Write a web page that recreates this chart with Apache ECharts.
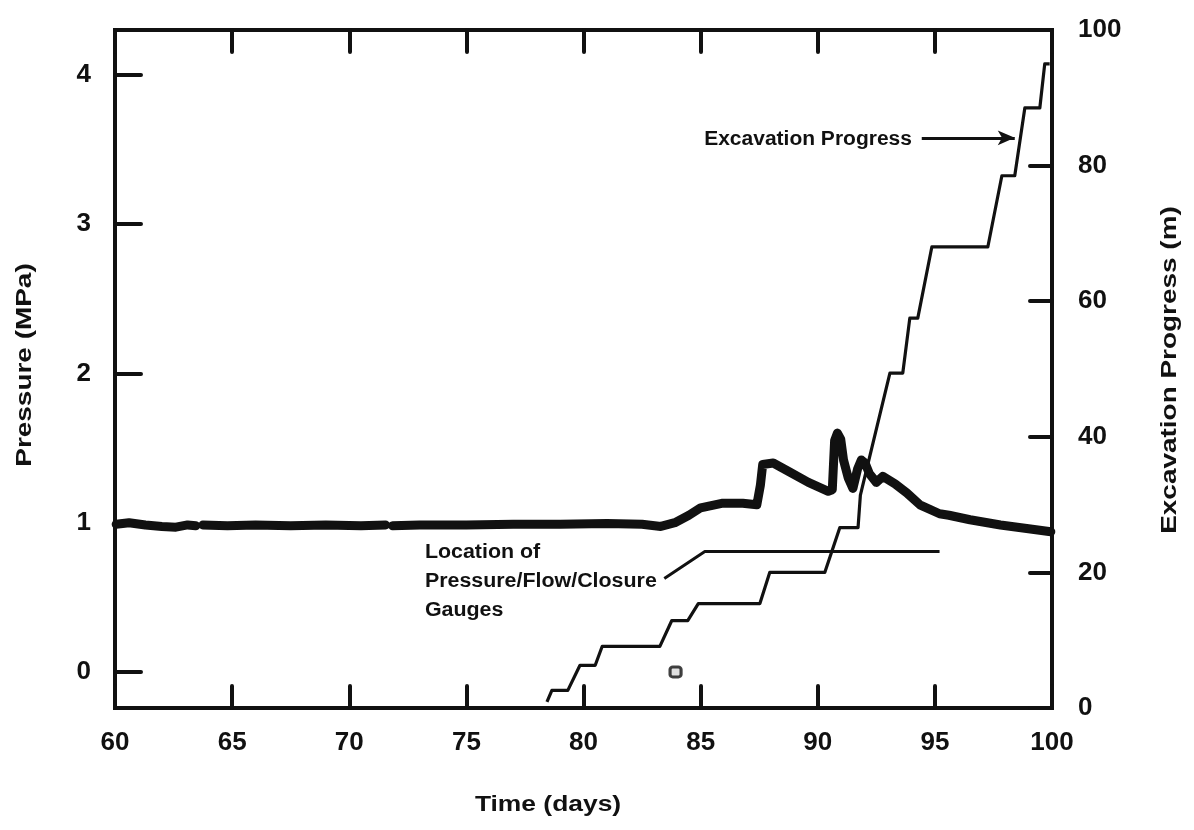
<!DOCTYPE html>
<html>
<head>
<meta charset="utf-8">
<title>Pressure and Excavation Progress</title>
<script src="https://cdn.jsdelivr.net/npm/echarts@6/dist/echarts.min.js"></script>
<style>
  html, body { margin: 0; padding: 0; background: #fff; }
  #chart { width: 1194px; height: 830px; }
</style>
</head>
<body>
<div id="chart"></div>
<script>
// Gauge pressure record (MPa) against time (days); nulls mark gaps in the record
const pressureDays = [60.05, 60.6, 61.3, 62.0, 62.6, 63.1, 63.45, 63.6, 63.75, 64.8,
  66.0, 67.5, 69.0, 70.5, 71.55, 71.7, 71.85, 73.0, 75.0, 77.0,
  79.0, 81.0, 82.5, 83.3, 83.9, 84.5, 85.0, 85.9, 86.8, 87.4,
  87.55, 87.65, 88.1, 88.8, 89.6, 90.45, 90.62, 90.72, 90.84, 90.98,
  91.1, 91.3, 91.5, 91.7, 91.86, 92.02, 92.2, 92.5, 92.78, 93.3,
  93.8, 94.36, 95.2, 95.6, 96.5, 97.8, 99.0, 99.95];
const pressureMPa = [0.99, 1.0, 0.985, 0.975, 0.97, 0.985, 0.98, null, 0.985, 0.98,
  0.985, 0.98, 0.985, 0.98, 0.985, null, 0.98, 0.985, 0.985, 0.99,
  0.99, 0.995, 0.99, 0.975, 1.0, 1.05, 1.1, 1.13, 1.13, 1.12,
  1.25, 1.39, 1.40, 1.34, 1.27, 1.21, 1.22, 1.55, 1.60, 1.56,
  1.42, 1.3, 1.23, 1.36, 1.42, 1.40, 1.33, 1.27, 1.31, 1.26,
  1.20, 1.12, 1.06, 1.05, 1.02, 0.985, 0.96, 0.94];

// Excavation face position (m) against time (days)
const excavationDays = [78.44, 78.65, 79.33, 79.85, 80.5, 80.8, 83.26, 83.77, 84.45, 84.9,
  87.53, 87.95, 90.3, 90.94, 91.72, 91.82, 93.08, 93.63, 93.93, 94.27,
  94.87, 97.26, 97.86, 98.41, 98.84, 99.48, 99.69, 99.9];
const excavationM = [0.9, 2.6, 2.6, 6.3, 6.3, 9.1, 9.1, 12.9, 12.9, 15.4,
  15.4, 20.0, 20.0, 26.6, 26.6, 31.4, 49.4, 49.4, 57.5, 57.5,
  68.0, 68.0, 78.5, 78.5, 88.5, 88.5, 95.0, 95.0];

// Gauge location line with its leader (m on the excavation axis)
const gaugeDays = [83.45, 85.18, 95.2];
const gaugeM = [19.1, 23.1, 23.1];

// Isolated reading near zero pressure
const markerDays = [83.93];
const markerMPa = [0.0];

// Axis ticks
const pressureTicks = [0, 1, 2, 3, 4];

const zip = (xs, ys) => xs.map((x, i) => [x, ys[i] === null ? '-' : ys[i]]);

const INK = '#111';
const FONT = '"Liberation Sans", Arial, Helvetica, sans-serif';
const axisLine = { show: true, onZero: false, lineStyle: { color: INK, width: 4, cap: 'square' } };
const tick = (len) => ({ show: true, inside: true, length: len, lineStyle: { color: INK, width: 4, cap: 'round' } });
const tickLabel = { color: INK, fontSize: 26, fontWeight: 'bold', fontFamily: FONT };

const chart = echarts.init(document.getElementById('chart'), null, { renderer: 'canvas' });

chart.setOption({
  animation: false,
  backgroundColor: '#fff',
  grid: { left: 115, right: 142, top: 30, bottom: 122, containLabel: false },
  xAxis: [
    {
      type: 'value', min: 60, max: 100, interval: 5, position: 'bottom',
      axisLine: axisLine, axisTick: tick(22), splitLine: { show: false },
      axisLabel: Object.assign({ margin: 22 }, tickLabel)
    },
    {
      type: 'value', min: 60, max: 100, interval: 5, position: 'top',
      axisLine: axisLine, axisTick: tick(22), splitLine: { show: false },
      axisLabel: { show: false }
    }
  ],
  yAxis: [
    {
      type: 'value', min: -0.241, max: 4.30, position: 'left',
      axisLine: axisLine,
      axisTick: Object.assign(tick(26), { customValues: pressureTicks }),
      splitLine: { show: false },
      axisLabel: Object.assign({ margin: 24, customValues: pressureTicks }, tickLabel)
    },
    {
      type: 'value', min: 0, max: 100, interval: 20, position: 'right',
      axisLine: axisLine, axisTick: tick(22), splitLine: { show: false },
      axisLabel: Object.assign({ margin: 26 }, tickLabel)
    }
  ],
  series: [
    {
      name: 'Pressure', type: 'line', xAxisIndex: 0, yAxisIndex: 0,
      data: zip(pressureDays, pressureMPa), connectNulls: false,
      showSymbol: false, symbol: 'none', z: 3,
      lineStyle: { color: INK, width: 9, cap: 'round', join: 'round' }
    },
    {
      name: 'Excavation Progress', type: 'line', xAxisIndex: 0, yAxisIndex: 1,
      data: zip(excavationDays, excavationM),
      showSymbol: false, symbol: 'none', z: 4,
      lineStyle: { color: INK, width: 3.2, join: 'round' },
      markLine: {
        silent: true, symbol: ['none', 'arrow'], symbolSize: [11, 17],
        label: { show: false },
        lineStyle: { color: INK, width: 3, type: 'solid' },
        data: [[{ coord: [94.44, 84.1] }, { coord: [98.41, 84.1] }]]
      }
    },
    {
      name: 'Gauge Location', type: 'line', xAxisIndex: 0, yAxisIndex: 1,
      data: zip(gaugeDays, gaugeM),
      showSymbol: false, symbol: 'none', z: 4,
      lineStyle: { color: INK, width: 3, join: 'round' }
    },
    {
      name: 'Reading', type: 'scatter', xAxisIndex: 0, yAxisIndex: 0,
      data: zip(markerDays, markerMPa),
      symbol: 'roundRect', symbolSize: [11, 10], z: 5,
      itemStyle: { color: '#d8d8d8', borderColor: INK, borderWidth: 3 }
    }
  ]
});

// Annotations placed from data coordinates
const excLabel = chart.convertToPixel({ seriesIndex: 1 }, [94.02, 83.8]);
const locLabel = chart.convertToPixel({ seriesIndex: 2 }, [73.23, 23.0]);

const textStyle = (extra) => Object.assign({
  fill: INK, fontSize: 20, fontWeight: 'bold', fontFamily: FONT
}, extra);

chart.setOption({
  graphic: [
    {
      type: 'text', x: excLabel[0], y: excLabel[1], scaleX: 1.05,
      style: textStyle({ text: 'Excavation Progress', align: 'right', verticalAlign: 'middle' })
    },
    {
      type: 'text', x: locLabel[0], y: locLabel[1] - 14.5, scaleX: 1.07,
      style: textStyle({ text: 'Location of\nPressure/Flow/Closure\nGauges', align: 'left', verticalAlign: 'top', lineHeight: 29 })
    },
    {
      type: 'text', x: 25, y: 365, rotation: Math.PI / 2, scaleX: 1.27,
      style: textStyle({ text: 'Pressure (MPa)', fontSize: 22, align: 'center', verticalAlign: 'middle' })
    },
    {
      type: 'text', x: 1170, y: 370, rotation: Math.PI / 2, scaleX: 1.27,
      style: textStyle({ text: 'Excavation Progress (m)', fontSize: 22, align: 'center', verticalAlign: 'middle' })
    },
    {
      type: 'text', x: 548, y: 805, scaleX: 1.2,
      style: textStyle({ text: 'Time (days)', fontSize: 22, align: 'center', verticalAlign: 'middle' })
    }
  ]
});
</script>
</body>
</html>
